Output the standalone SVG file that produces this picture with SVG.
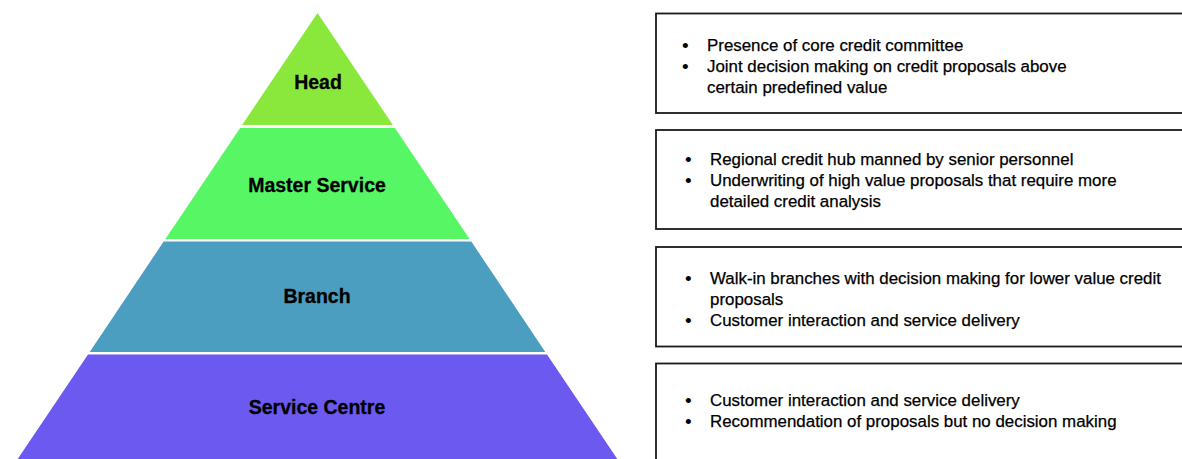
<svg xmlns="http://www.w3.org/2000/svg" width="1182" height="459" viewBox="0 0 1182 459">
<style>
.lbl{font-family:"Liberation Sans",Arial,sans-serif;font-weight:bold;font-size:19.5px;fill:#000;stroke:#000;stroke-width:0.3;text-anchor:middle}
.box{fill:#fff;stroke:#1a1a1a;stroke-width:1.8}
.t{font-family:"Liberation Sans",Arial,sans-serif;font-size:16.9px;fill:#000;stroke:#000;stroke-width:0.25}
.b{font-family:"Liberation Sans",Arial,sans-serif;font-size:19px;fill:#000}
</style>
<rect width="1182" height="459" fill="#fff"/>
<g id="head">
<polygon points="317.5,13 392.9,125 242.1,125" fill="#8AE83C"/>
<text class="lbl" x="318" y="89">Head</text>
</g>
<g id="master-service">
<polygon points="240.1,128 394.9,128 469.6,239 165.4,239" fill="#56F665"/>
<text class="lbl" x="317" y="192">Master Service</text>
</g>
<g id="branch">
<polygon points="163.7,241.5 471.3,241.5 545.3,352 89.7,352" fill="#4C9EC1"/>
<text class="lbl" x="317" y="303">Branch</text>
</g>
<g id="service-centre">
<polygon points="88,354.5 547,354.5 621,464.5 14,464.5" fill="#6B59F0"/>
<text class="lbl" x="317" y="414">Service Centre</text>
</g>
<g id="desc-head">
<rect class="box" x="656" y="13.5" width="600" height="99.5"/>
<text class="b" x="682" y="51.5">•</text>
<text class="t" x="707" y="51">Presence of core credit committee</text>
<text class="b" x="682" y="72.5">•</text>
<text class="t" x="707" y="72">Joint decision making on credit proposals above</text>
<text class="t" x="707" y="93">certain predefined value</text>
</g>
<g id="desc-master">
<rect class="box" x="656" y="130" width="600" height="99"/>
<text class="b" x="685" y="165.5">•</text>
<text class="t" x="710" y="165">Regional credit hub manned by senior personnel</text>
<text class="b" x="685" y="186.5">•</text>
<text class="t" x="710" y="186">Underwriting of high value proposals that require more</text>
<text class="t" x="710" y="207">detailed credit analysis</text>
</g>
<g id="desc-branch">
<rect class="box" x="656" y="247" width="600" height="99.5"/>
<text class="b" x="685" y="284.5">•</text>
<text class="t" x="710" y="284">Walk-in branches with decision making for lower value credit</text>
<text class="t" x="710" y="305">proposals</text>
<text class="b" x="685" y="326.5">•</text>
<text class="t" x="710" y="326">Customer interaction and service delivery</text>
</g>
<g id="desc-service">
<rect class="box" x="656" y="363.5" width="600" height="120"/>
<text class="b" x="685" y="406.5">•</text>
<text class="t" x="710" y="406">Customer interaction and service delivery</text>
<text class="b" x="685" y="427.5">•</text>
<text class="t" x="710" y="427">Recommendation of proposals but no decision making</text>
</g>
<g id="connectors"></g>
</svg>
